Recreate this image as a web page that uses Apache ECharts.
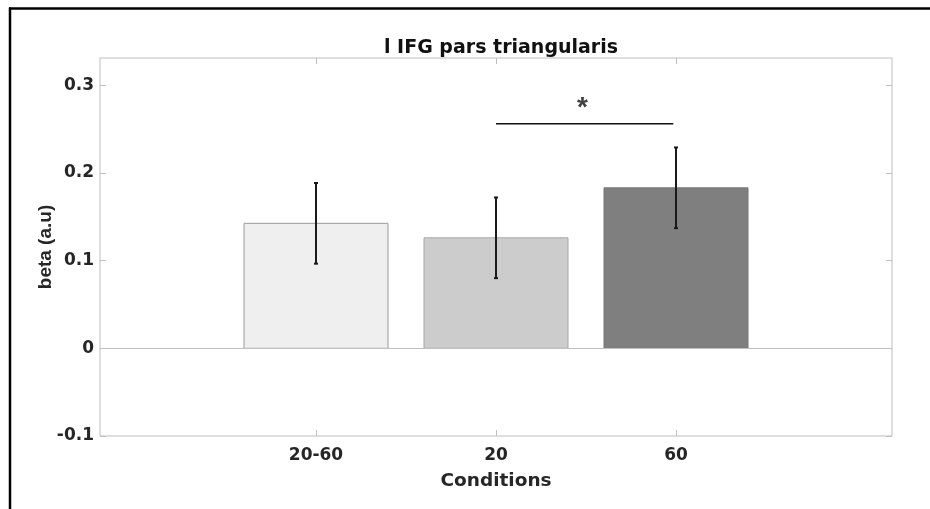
<!DOCTYPE html>
<html>
<head>
<meta charset="utf-8">
<script src="https://cdn.jsdelivr.net/npm/echarts@6/dist/echarts.min.js"></script>
<style>
html,body{margin:0;padding:0;background:#fff;}
#chart{width:930px;height:509px;}
</style>
</head>
<body>
<div id="chart"></div>
<script>
// ---- data ----
var categories = ['20-60', '20', '60'];
var means = [0.1425, 0.126, 0.183];
var errors = [0.046, 0.046, 0.046];
var yTicks = [-0.1, 0, 0.1, 0.2, 0.3];
var sigPair = [1, 1.985];      // x-extent of significance bracket (category index units)
var sigY = 0.256;              // height of bracket
var sigStarPos = [1.48, 0.274];
var sigLabel = '*';

// ---- style ----
var barColors = ['#efefef', '#cccccc', '#7f7f7f'];
var barBorders = ['#9a9a9a', '#a8a8a8', '#777777'];
var axisGray = '#bfbfbf';
var textColor = '#262626';
var WIDE = 'DejaVu Sans, sans-serif';
var NARROW = 'Liberation Sans, Arial, sans-serif';

var xIdx = categories.map(function (c, i) { return i; });
var barData = means.map(function (m, i) { return [i, m]; });
var errData = means.map(function (m, i) { return [i, m - errors[i], m + errors[i]]; });

var chart = echarts.init(document.getElementById('chart'), null, {renderer: 'canvas'});
var option = {
  backgroundColor: '#ffffff',
  animation: false,
  title: {
    text: 'l IFG pars triangularis',
    left: 496, top: 34, textAlign: 'center',
    textStyle: {fontFamily: WIDE, fontWeight: 'bold', fontSize: 19, color: '#111'}
  },
  grid: {left: 100, right: 38, top: 58, bottom: 73, show: true, borderColor: axisGray, borderWidth: 1, backgroundColor: 'transparent'},
  xAxis: [{
    type: 'value', min: -1.2, max: 3.2, position: 'bottom',
    name: 'Conditions', nameLocation: 'middle', nameGap: 36,
    nameTextStyle: {fontFamily: WIDE, fontWeight: 'bold', fontSize: 18.5, color: textColor},
    axisLine: {show: false, onZero: false},
    axisTick: {show: true, inside: true, length: 6, customValues: xIdx, lineStyle: {color: axisGray}},
    axisLabel: {show: true, customValues: xIdx, margin: 11,
      formatter: function (v) { return categories[Math.round(v)]; },
      fontFamily: WIDE, fontWeight: 'bold', fontSize: 17, color: textColor},
    splitLine: {show: false}
  }, {
    type: 'value', min: -1.2, max: 3.2, position: 'top',
    axisLine: {show: false, onZero: false},
    axisTick: {show: true, inside: true, length: 6, customValues: xIdx, lineStyle: {color: axisGray}},
    axisLabel: {show: false}, splitLine: {show: false}
  }],
  yAxis: [{
    type: 'value', min: -0.1, max: 0.331, position: 'left',
    name: 'beta (a.u)', nameLocation: 'middle', nameGap: 45, nameMoveOverlap: false,
    nameTextStyle: {fontFamily: NARROW, fontWeight: 'bold', fontSize: 19, color: textColor},
    axisLine: {show: false, onZero: false},
    axisTick: {show: true, inside: true, length: 6, customValues: yTicks, lineStyle: {color: axisGray}},
    axisLabel: {show: true, customValues: yTicks, margin: 6,
      formatter: function (v) { return String(Math.round(v * 10) / 10); },
      fontFamily: WIDE, fontWeight: 'bold', fontSize: 17, color: textColor},
    splitLine: {show: false}
  }, {
    type: 'value', min: -0.1, max: 0.331, position: 'right',
    axisLine: {show: false, onZero: false},
    axisTick: {show: true, inside: true, length: 6, customValues: yTicks, lineStyle: {color: axisGray}},
    axisLabel: {show: false}, splitLine: {show: false}
  }],
  series: [{
    type: 'custom', name: 'bars', xAxisIndex: 0, yAxisIndex: 0,
    data: barData,
    renderItem: function (params, api) {
      var x = api.value(0), y = api.value(1);
      var p1 = api.coord([x - 0.4, y]);
      var p2 = api.coord([x + 0.4, 0]);
      return {
        type: 'rect',
        shape: {x: p1[0], y: p1[1], width: p2[0] - p1[0], height: p2[1] - p1[1]},
        style: {fill: barColors[params.dataIndex], stroke: barBorders[params.dataIndex], lineWidth: 1}
      };
    },
    markLine: {
      silent: true, symbol: 'none', label: {show: false},
      lineStyle: {color: axisGray, width: 1, type: 'solid'},
      data: [{yAxis: 0}]
    },
    z: 2
  }, {
    type: 'custom', name: 'err', xAxisIndex: 0, yAxisIndex: 0,
    data: errData,
    renderItem: function (params, api) {
      var x = api.value(0);
      var lo = api.coord([x, api.value(1)]);
      var hi = api.coord([x, api.value(2)]);
      var st = {stroke: '#1a1a1a', lineWidth: 2};
      return {
        type: 'group',
        children: [
          {type: 'line', shape: {x1: lo[0], y1: lo[1], x2: hi[0], y2: hi[1]}, style: st},
          {type: 'line', shape: {x1: lo[0] - 2, y1: lo[1], x2: lo[0] + 2, y2: lo[1]}, style: st},
          {type: 'line', shape: {x1: hi[0] - 2, y1: hi[1], x2: hi[0] + 2, y2: hi[1]}, style: st}
        ]
      };
    },
    z: 3
  }, {
    type: 'line', name: 'sig', xAxisIndex: 0, yAxisIndex: 0,
    data: [[sigPair[0], sigY], [sigPair[1], sigY]],
    symbol: 'none', lineStyle: {color: '#111', width: 1.5}, z: 4
  }, {
    type: 'scatter', name: 'star', xAxisIndex: 0, yAxisIndex: 0,
    data: [sigStarPos], symbolSize: 0,
    label: {show: true, position: 'inside', formatter: sigLabel,
      fontFamily: NARROW, fontWeight: 'bold', fontSize: 28, color: '#111'},
    z: 4
  }],
  graphic: [
    {type: 'line', shape: {x1: 9, y1: 8.5, x2: 930, y2: 8.5}, style: {stroke: '#000', lineWidth: 2.5}},
    {type: 'line', shape: {x1: 10, y1: 7.5, x2: 10, y2: 509}, style: {stroke: '#000', lineWidth: 2.5}}
  ]
};
chart.setOption(option);
</script>
</body>
</html>
